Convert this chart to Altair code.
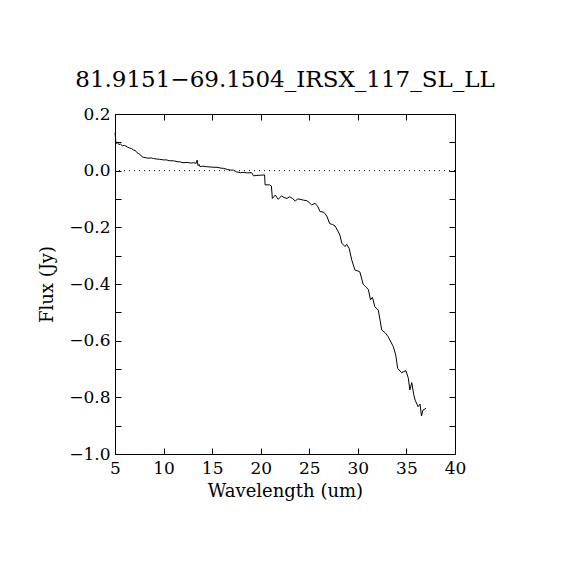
import altair as alt
import pandas as pd

# ---- data ----
wavelength = [5.00, 5.05, 5.10, 5.25, 5.40, 5.55, 5.75, 6.00, 6.25, 6.50, 6.70, 6.90,
              7.10, 7.25, 7.40, 7.55, 7.70, 7.90, 8.10, 8.40, 8.70, 8.95, 9.30, 9.60,
              10.0, 10.3, 10.6, 11.0, 11.4, 11.7, 12.0, 12.4, 12.8, 13.1, 13.35, 13.45,
              13.55, 13.65, 13.75, 14.0, 14.4, 14.8, 15.2, 15.5, 15.9, 16.2, 16.6, 16.9,
              17.2, 17.5, 17.9, 18.3, 18.6, 19.0, 19.1, 19.25, 19.6, 20.0, 20.4, 20.45,
              20.9, 21.1, 21.2, 21.5, 21.8, 22.15, 22.4, 22.7, 23.0, 23.3, 23.55, 23.8,
              24.05, 24.4, 24.75, 25.0, 25.25, 25.6, 25.9, 26.1, 26.5, 26.8, 27.1, 27.4,
              27.65, 27.9, 28.15, 28.35, 28.68, 28.85, 29.1, 29.37, 29.7, 30.0, 30.2, 30.55,
              30.8, 31.08, 31.3, 31.5, 31.75, 32.1, 32.3, 32.45, 32.8, 33.1, 33.3, 33.65,
              33.9, 34.1, 34.5, 34.95, 35.2, 35.35, 35.55, 35.75, 35.9, 36.2, 36.4, 36.55,
              36.7, 37.0]
flux = [0.133, 0.118, 0.096, 0.100, 0.092, 0.094, 0.088, 0.089, 0.084, 0.080, 0.078, 0.073,
        0.071, 0.064, 0.061, 0.058, 0.052, 0.047, 0.046, 0.044, 0.045, 0.043, 0.041, 0.040,
        0.038, 0.038, 0.035, 0.035, 0.032, 0.031, 0.028, 0.029, 0.027, 0.028, 0.026, 0.037,
        0.018, 0.022, 0.014, 0.016, 0.014, 0.013, 0.012, 0.012, 0.009, 0.008, 0.004, 0.002,
        0.002, -0.004, -0.007, -0.006, -0.008, -0.007, -0.008, -0.018, -0.017, -0.016, -0.015, -0.050,
        -0.050, -0.054, -0.098, -0.086, -0.101, -0.089, -0.095, -0.098, -0.092, -0.099, -0.107, -0.100,
        -0.101, -0.104, -0.106, -0.113, -0.121, -0.115, -0.128, -0.144, -0.147, -0.160, -0.187, -0.190,
        -0.195, -0.210, -0.227, -0.256, -0.268, -0.260, -0.274, -0.315, -0.351, -0.354, -0.357, -0.401,
        -0.410, -0.419, -0.456, -0.447, -0.480, -0.492, -0.530, -0.562, -0.572, -0.585, -0.598, -0.621,
        -0.651, -0.698, -0.713, -0.706, -0.733, -0.774, -0.748, -0.790, -0.810, -0.833, -0.824, -0.866,
        -0.845, -0.839]
zero_level = [0.0]
x_ticks = [5, 10, 15, 20, 25, 30, 35, 40]
y_ticks = [0.2, 0.1, 0.0, -0.1, -0.2, -0.3, -0.4, -0.5, -0.6, -0.7, -0.8, -0.9, -1.0]
title_text = "81.9151\u221269.1504_IRSX_117_SL_LL"
x_title = "Wavelength (um)"
y_title = "Flux (Jy)"

df = pd.DataFrame({"Wavelength": wavelength, "Flux": flux})
zero_df = pd.DataFrame({"zero": zero_level})

FONT = "DejaVu Serif"
xscale = alt.Scale(domain=[5, 40], nice=False, zero=False)
yscale = alt.Scale(domain=[-1.0, 0.2], nice=False, zero=False)

common = dict(domain=False, grid=False, tickColor="black", tickSize=6, tickWidth=1,
              offset=-6, labelFont=FONT, labelFontSize=17, labelColor="black",
              labelFlush=False, labelOverlap=False,
              titleFont=FONT, titleFontSize=18, titleColor="black", titleFontWeight="normal")

x_bottom = alt.Axis(orient="bottom", values=x_ticks, format=".0f", labelPadding=6,
                    title=x_title, titlePadding=6, **common)
x_top = alt.Axis(orient="top", values=x_ticks, labels=False, title="", **common)
y_left = alt.Axis(orient="left", values=y_ticks, format=".1f", labelPadding=5,
                  labelExpr="abs(round(datum.value*10)) % 2 == 0 ? datum.label : ''",
                  title=y_title, titlePadding=12, **common)
y_right = alt.Axis(orient="right", values=y_ticks, labels=False, title="", **common)

zero = alt.Chart(zero_df).mark_rule(color="black", strokeDash=[1, 4], strokeWidth=1).encode(
    y=alt.Y("zero:Q", scale=yscale, axis=None)
)
line = alt.Chart(df).mark_line(color="black", strokeWidth=1).encode(
    x=alt.X("Wavelength:Q", scale=xscale, axis=x_bottom),
    y=alt.Y("Flux:Q", scale=yscale, axis=y_left),
)
frame = alt.Chart(df).mark_line(opacity=0).encode(
    x=alt.X("Wavelength:Q", scale=xscale, axis=x_top),
    y=alt.Y("Flux:Q", scale=yscale, axis=y_right),
)

chart = (
    alt.layer(zero, line, frame)
    .resolve_axis(x="independent", y="independent")
    .properties(
        width=340, height=340,
        title=alt.TitleParams(text=title_text, font=FONT, fontSize=23, fontWeight="normal",
                              color="black", offset=13, anchor="middle"),
        padding={"left": 107, "top": 106, "right": 100, "bottom": 100},
        autosize=alt.AutoSizeParams(type="none"),
        background="white",
    )
    .configure_view(stroke="black", strokeWidth=1)
)

chart.save("out.html", embed_options={"renderer": "svg", "actions": False})
